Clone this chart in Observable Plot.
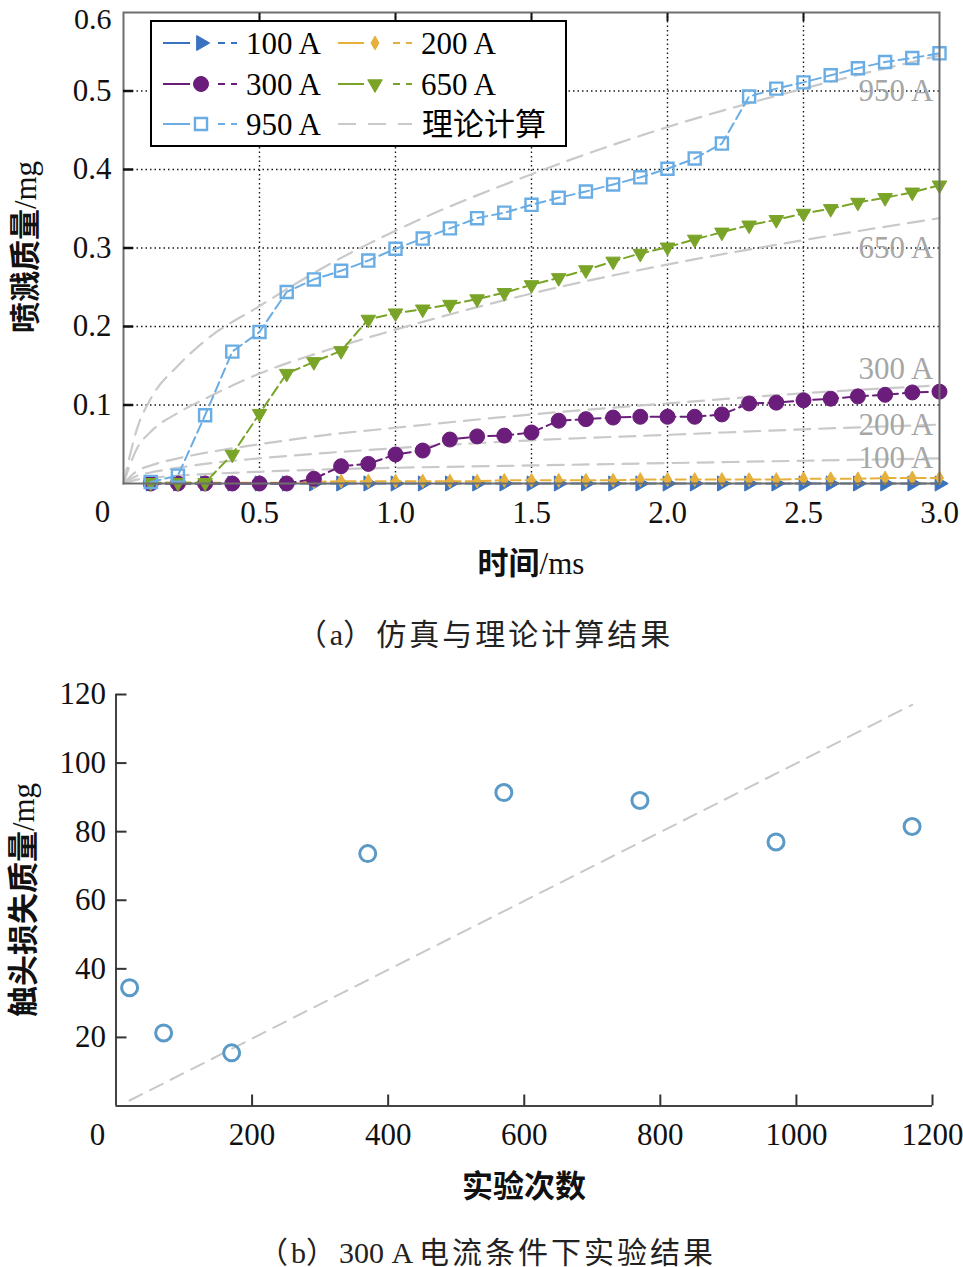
<!DOCTYPE html>
<html><head><meta charset="utf-8">
<script src="https://cdn.jsdelivr.net/npm/d3@7"></script>
<script src="https://cdn.jsdelivr.net/npm/@observablehq/plot@0.6"></script>
<style>
body{margin:0;background:#fff;width:963px;height:1267px;position:relative;overflow:hidden;font-family:"Liberation Serif","Noto Sans CJK SC",serif;color:#111;}
.abs{position:absolute;white-space:nowrap;}
#top{position:absolute;left:0;top:0;}
#bottom{position:absolute;left:0;top:670px;}
#legend{position:absolute;left:150px;top:20px;}
.title{font-size:31px;transform:translate(-50%,-50%);}
.title b{font-weight:700;}
.ytitle{transform:translate(-50%,-50%) rotate(-90deg);}
.cap{font-size:30px;letter-spacing:3px;transform:translate(-50%,-50%);color:#222;}
.cap .lat{letter-spacing:0;}
</style></head><body>
<div id="top"></div>
<div id="legend"></div>
<div id="bottom"></div>
<div class="abs title" style="left:531px;top:560px"><b>时间</b>/ms</div>
<div class="abs title ytitle" style="left:22px;top:247px"><b>喷溅质量</b>/mg</div>
<div class="abs cap" style="left:485px;top:632px">（<span class="lat">a</span>）仿真与理论计算结果</div>
<div class="abs title" style="left:524px;top:1183px"><b>实验次数</b></div>
<div class="abs title ytitle" style="left:20px;top:900px"><b>触头损失质量</b>/mg</div>
<div class="abs cap" style="left:487px;top:1250px">（<span class="lat">b</span>）<span class="lat">300 A </span>电流条件下实验结果</div>
<script>
// ---------- data (a) ----------
const times = [0.1,0.2,0.3,0.4,0.5,0.6,0.7,0.8,0.9,1.0,1.1,1.2,1.3,1.4,1.5,1.6,1.7,1.8,1.9,2.0,2.1,2.2,2.3,2.4,2.5,2.6,2.7,2.8,2.9,3.0];
const sim100 = [0,0,0,0,0,0,0,0,0,0,0,0,0,0,0,0,0,0,0,0,0,0,0,0,0,0,0,0,0,0];
const sim200 = [0.001,0.001,0.001,0.001,0.001,0.001,0.002,0.003,0.003,0.003,0.003,0.003,0.003,0.004,0.004,0.004,0.004,0.004,0.005,0.005,0.005,0.005,0.005,0.005,0.006,0.006,0.006,0.007,0.007,0.007];
const sim300 = [0,0,0,0,0,0,0.006,0.022,0.025,0.037,0.042,0.056,0.060,0.061,0.065,0.080,0.082,0.084,0.085,0.085,0.085,0.088,0.102,0.103,0.106,0.108,0.111,0.113,0.116,0.117];
const sim650 = [0.001,0.001,0.001,0.037,0.089,0.140,0.155,0.169,0.209,0.217,0.222,0.228,0.235,0.243,0.253,0.262,0.272,0.283,0.293,0.301,0.311,0.320,0.329,0.336,0.344,0.350,0.358,0.364,0.371,0.380];
const sim950 = [0.002,0.010,0.087,0.168,0.193,0.244,0.260,0.271,0.284,0.299,0.312,0.325,0.338,0.345,0.355,0.364,0.372,0.381,0.390,0.401,0.414,0.433,0.493,0.503,0.511,0.520,0.529,0.537,0.542,0.548];
const seriesNames = ["100 A","200 A","300 A","650 A","950 A"];
const seriesColors = ["#3a72c2","#e6b03c","#6a1d7a","#7aa428","#6aade4"];

const theoryT = [0,0.05,0.1,0.2,0.3,0.5,0.75,1.0,1.5,2.0,2.5,3.0];
const th100 = [0,0.005,0.007,0.010,0.012,0.015,0.018,0.020,0.023,0.026,0.029,0.032];
const th200 = [0,0.010,0.014,0.020,0.025,0.032,0.039,0.045,0.055,0.062,0.069,0.075];
const th300 = [0,0.016,0.023,0.032,0.039,0.050,0.062,0.071,0.088,0.102,0.115,0.125];
const th650 = [0,0.045,0.066,0.090,0.108,0.140,0.170,0.196,0.242,0.279,0.310,0.338];
const th950 = [0,0.070,0.108,0.150,0.182,0.226,0.278,0.322,0.394,0.454,0.503,0.545];
const theoryLabelY = [0.033,0.074,0.146,0.300,0.500];

const xTicksA = [0.5,1.0,1.5,2.0,2.5,3.0];
const yTicksA = [0.1,0.2,0.3,0.4,0.5];
const yTopTickA = [0.6];

// ---------- data (b) ----------
const expCount = [20,70,170,370,570,770,970,1170];
const lossMass = [34.5,21.3,15.5,73.6,91.4,89.1,77.0,81.5];
const fitCount = [20,1170];
const fitMass = [1.6,117.0];
const xTicksB = [200,400,600,800,1000,1200];
const yTicksB = [20,40,60,80,100,120];

// ---------- symbols ----------
const S3 = Math.sqrt(3);
const triDown = {draw(c, size){const y=-Math.sqrt(size/(S3*3)); c.moveTo(0,-2*y); c.lineTo(-S3*y,y); c.lineTo(S3*y,y); c.closePath();}};
const triRight = {draw(c, size){const y=-Math.sqrt(size/(S3*3)); c.moveTo(-2*y,0); c.lineTo(y,-S3*y); c.lineTo(y,S3*y); c.closePath();}};
const symbols = [triRight, "diamond", "circle", triDown, "square"];
const radii = [5.6, 4.2, 7.5, 5.4, 6.8];
const fills = [true, true, true, true, false];

const FONT = '"Liberation Serif","Noto Sans CJK SC",serif';
const simValues = [sim100, sim200, sim300, sim650, sim950];
const thValues = [th100, th200, th300, th650, th950];

const theoryRows = thValues.flatMap((vals, k) => theoryT.map((t, i) => ({t, v: vals[i], name: seriesNames[k]})));
const labelRows = seriesNames.map((n, k) => ({t: 3.0, v: theoryLabelY[k], text: n}));

const seriesMarks = simValues.flatMap((vals, k) => {
  const rows = times.map((t, i) => ({t, v: vals[i]}));
  return [
    Plot.line(rows, {x: "t", y: "v", stroke: seriesColors[k], strokeWidth: 2, strokeDasharray: "10,5"}),
    Plot.dot(rows, {x: "t", y: "v", symbol: symbols[k], r: radii[k],
      fill: fills[k] ? seriesColors[k] : "none", stroke: seriesColors[k], strokeWidth: fills[k] ? 1 : 2.4})
  ];
});

const topPlot = Plot.plot({
  width: 963, height: 590,
  marginLeft: 123, marginRight: 24, marginTop: 12, marginBottom: 107,
  x: {domain: [0, 3]}, y: {domain: [0, 0.6]},
  style: {fontFamily: FONT, fontSize: "31px", color: "#111", background: "white", overflow: "visible"},
  marks: [
    Plot.gridX([0.5,1.0,1.5,2.0,2.5], {stroke: "#000", strokeOpacity: 0.9, strokeWidth: 1.4, strokeDasharray: "1.5,3"}),
    Plot.gridY([0.1,0.2,0.3,0.4,0.5], {stroke: "#000", strokeOpacity: 0.9, strokeWidth: 1.4, strokeDasharray: "1.5,3"}),
    Plot.line(theoryRows, {x: "t", y: "v", z: "name", stroke: "#c9c9c9", strokeWidth: 2.2, strokeDasharray: "16,9", curve: "monotone-x"}),
    Plot.text(labelRows, {x: "t", y: "v", text: "text", textAnchor: "end", dx: -6, fill: "#a6a6a6", fontSize: 31}),
    ...seriesMarks,
    Plot.frame({stroke: "#6e6e6e", strokeWidth: 2}),
    Plot.axisY(yTicksA, {tickSize: 0, tickPadding: 12, tickFormat: d3.format(".1f"), label: null, fontSize: 31}),
    Plot.axisY(yTopTickA, {tickSize: 0, tickPadding: 12, tickFormat: d3.format(".1f"), label: null, fontSize: 30, dy: 7}),
    Plot.axisY(yTicksA, {tickSize: -10, tickFormat: () => "", label: null, strokeWidth: 2.5}),
    Plot.axisX(xTicksA, {tickSize: 0, tickPadding: 17, tickFormat: d3.format(".1f"), label: null, fontSize: 31}),
    Plot.axisX([0.5,1.0,1.5,2.0,2.5], {anchor: "top", tickSize: -8, tickFormat: () => "", label: null, strokeWidth: 2}),
    Plot.text([{x: 0, y: 0, s: "0"}], {x: "x", y: "y", text: "s", dx: -21, dy: 29, fontSize: 31})
  ]
});
document.getElementById("top").appendChild(topPlot);

// ---------- legend ----------
(function(){
  const W = 417, H = 127;
  const svg = d3.select("#legend").append("svg").attr("width", W).attr("height", H)
    .style("font-family", FONT).style("font-size", "31px");
  svg.append("rect").attr("x", 1).attr("y", 1).attr("width", W - 2).attr("height", H - 2)
    .attr("fill", "white").attr("stroke", "#000").attr("stroke-width", 2);
  const rowsY = [23, 64, 104];
  const cols = [{a: 13, b: 40, m: 51, c: 68, d: 87, tx: 96}, {a: 188, b: 214, m: 225, c: 243, d: 262, tx: 271}];
  const entries = [
    {k: 0, r: 0, c: 0}, {k: 1, r: 0, c: 1}, {k: 2, r: 1, c: 0}, {k: 3, r: 1, c: 1}, {k: 4, r: 2, c: 0}
  ];
  entries.forEach(e => {
    const col = cols[e.c], y = rowsY[e.r], color = seriesColors[e.k];
    svg.append("line").attr("x1", col.a).attr("x2", col.b).attr("y1", y).attr("y2", y).attr("stroke", color).attr("stroke-width", 2);
    svg.append("line").attr("x1", col.c).attr("x2", col.d).attr("y1", y).attr("y2", y).attr("stroke", color).attr("stroke-width", 2).attr("stroke-dasharray", "7,6");
    const sym = symbols[e.k];
    const symType = typeof sym === "string" ? {circle: d3.symbolCircle, square: d3.symbolSquare, diamond: d3.symbolDiamond}[sym] : sym;
    svg.append("path").attr("d", d3.symbol(symType, Math.PI * radii[e.k] * radii[e.k])())
      .attr("transform", `translate(${col.m},${y})`)
      .attr("fill", fills[e.k] ? color : "white").attr("stroke", color).attr("stroke-width", fills[e.k] ? 1 : 2.4);
    svg.append("text").attr("x", col.tx).attr("y", y).attr("dy", "0.35em").text(seriesNames[e.k]);
  });
  const col = cols[1], y = rowsY[2];
  svg.append("line").attr("x1", col.a).attr("x2", col.d).attr("y1", y).attr("y2", y)
    .attr("stroke", "#c9c9c9").attr("stroke-width", 2.2).attr("stroke-dasharray", "18,12");
  svg.append("text").attr("x", col.tx + 1).attr("y", y).attr("dy", "0.35em").text("理论计算");
})();

// ---------- chart (b) ----------
const expRows = expCount.map((n, i) => ({n, m: lossMass[i]}));
const fitRows = fitCount.map((n, i) => ({n, m: fitMass[i]}));
const bottomPlot = Plot.plot({
  width: 963, height: 530,
  marginLeft: 115.5, marginRight: 31, marginTop: 24, marginBottom: 94.5,
  x: {domain: [0, 1200]}, y: {domain: [0, 120]},
  style: {fontFamily: FONT, fontSize: "31px", color: "#111", background: "white", overflow: "visible"},
  marks: [
    Plot.line(fitRows, {x: "n", y: "m", stroke: "#c8c8c8", strokeWidth: 2, strokeDasharray: "14,9"}),
    Plot.dot(expRows, {x: "n", y: "m", r: 8, stroke: "#5b99c6", strokeWidth: 3, fill: "none"}),
    Plot.ruleX([0], {stroke: "#444", strokeWidth: 2}),
    Plot.ruleY([0], {stroke: "#444", strokeWidth: 2}),
    Plot.axisX(xTicksB, {tickSize: 0, tickPadding: 17, label: null, tickFormat: d => String(d), fontSize: 31}),
    Plot.axisX(xTicksB, {tickSize: -11, tickFormat: () => "", label: null, strokeWidth: 2, stroke: "#333"}),
    Plot.axisY(yTicksB, {tickSize: 0, tickPadding: 10, label: null, tickFormat: d => String(d), fontSize: 31}),
    Plot.axisY(yTicksB, {tickSize: -11, tickFormat: () => "", label: null, strokeWidth: 2, stroke: "#333"}),
    Plot.text([{x: 0, y: 0, s: "0"}], {x: "x", y: "y", text: "s", dx: -18.5, dy: 29.5, fontSize: 31})
  ]
});
document.getElementById("bottom").appendChild(bottomPlot);
</script>
</body></html>
